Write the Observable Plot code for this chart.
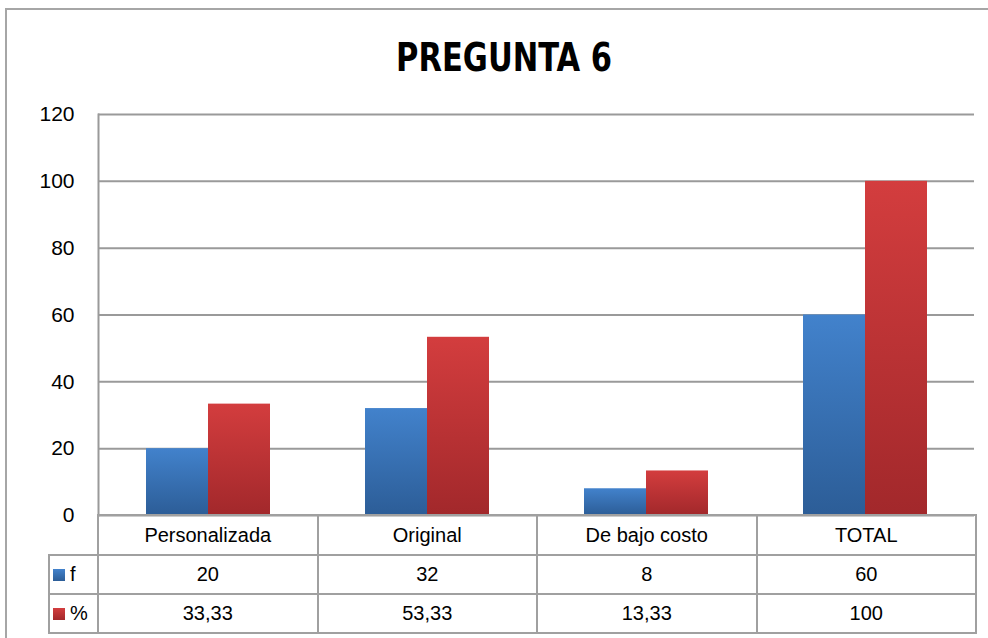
<!DOCTYPE html>
<html><head><meta charset="utf-8">
<script src="https://cdn.jsdelivr.net/npm/d3@7"></script>
<script src="https://cdn.jsdelivr.net/npm/@observablehq/plot@0.6"></script>
<style>
body{margin:0;background:#fff;font-family:"Liberation Sans",Arial,sans-serif;color:#000;}
#frame{position:absolute;left:5px;top:8px;width:1000px;height:700px;border-left:2px solid #a6a6a6;border-top:2px solid #a6a6a6;}
#title{position:absolute;left:0;top:35px;width:1008px;text-align:center;}
#title span{display:inline-block;transform:scaleX(0.87);transform-origin:center;font:bold 39px "Liberation Sans Narrow","DejaVu Sans Condensed",sans-serif;}
#chart{position:absolute;left:0;top:100px;}
#tbl{position:absolute;left:48px;top:514px;border-collapse:collapse;table-layout:fixed;width:928px;font-size:20px;}
#tbl td{border:2px solid #a0a0a0;text-align:center;padding:0;}
#tbl td.blank{border:none;}
#tbl td.lab{text-align:left;padding-left:3px;}
.sw{display:inline-block;width:12px;height:12px;margin-right:5px;vertical-align:0px;}
</style></head>
<body>
<div id="frame"></div>
<div id="title"><span>PREGUNTA 6</span></div>
<div id="chart"></div>
<table id="tbl"></table>
<script>
const categories = ["Personalizada", "Original", "De bajo costo", "TOTAL"];
const seriesNames = ["f", "%"];
const fValues = [20, 32, 8, 60];
const pctValues = [33.33, 53.33, 13.33, 100];
const yTicks = [0, 20, 40, 60, 80, 100, 120];

const gradIds = ["gradF", "gradP"];
const gradStops = [["#4282cc", "#2c5d97"], ["#d33d3e", "#a2282b"]];

const data = [];
categories.forEach((c, i) => {
  data.push({cat: c, series: seriesNames[0], value: fValues[i]});
  data.push({cat: c, series: seriesNames[1], value: pctValues[i]});
});

const W = 988, marginLeft = 97, marginRight = 13;
const svg = Plot.plot({
  width: W,
  height: 416,
  marginTop: 14,
  marginBottom: 1,
  marginLeft,
  marginRight,
  style: {fontFamily: "'Liberation Sans', Arial, sans-serif", fontSize: "21px", color: "#000", background: "transparent", overflow: "visible"},
  fx: {domain: categories, paddingInner: 0, paddingOuter: 0, axis: null, label: null},
  x: {domain: seriesNames, paddingInner: 0, paddingOuter: 0.742, axis: null},
  y: {domain: [0, 120], axis: null},
  color: {domain: seriesNames, range: gradIds.map(g => `url(#${g})`)},
  marks: [
    Plot.ruleY(yTicks, {stroke: "#9a9a9a", strokeWidth: 2}),
    Plot.barY(data, {fx: "cat", x: "series", y: "value", fill: "series"}),
    Plot.frame({anchor: "left", stroke: "#9a9a9a", strokeWidth: 2, facetAnchor: "left"}),
    Plot.axisY(yTicks, {tickSize: 0, tickPadding: 24, fontSize: 21, fill: "#000", label: null})
  ]
});
const defs = d3.select(svg).insert("defs", ":first-child");
gradIds.forEach((id, k) => {
  const g = defs.append("linearGradient").attr("id", id).attr("x1", 0).attr("y1", 0).attr("x2", 0).attr("y2", 1);
  g.append("stop").attr("offset", "0%").attr("stop-color", gradStops[k][0]);
  g.append("stop").attr("offset", "100%").attr("stop-color", gradStops[k][1]);
});
document.getElementById("chart").appendChild(svg);

// data table below the chart
const fmt = v => Number.isInteger(v) ? String(v) : v.toFixed(2).replace(".", ",");
const tbl = d3.select("#tbl");
const colg = tbl.append("colgroup");
colg.append("col").style("width", "49px");
categories.forEach(() => colg.append("col").style("width", ((W - marginLeft - marginRight) / categories.length) + "px"));
const hdr = tbl.append("tr").style("height", "40px");
hdr.append("td").attr("class", "blank");
categories.forEach(c => hdr.append("td").text(c));
[[seriesNames[0], fValues, 0], [seriesNames[1], pctValues, 1]].forEach(([name, vals, k]) => {
  const tr = tbl.append("tr").style("height", "39px");
  const lab = tr.append("td").attr("class", "lab");
  lab.append("span").attr("class", "sw").style("background", `linear-gradient(${gradStops[k][0]}, ${gradStops[k][1]})`);
  lab.append("span").text(name);
  vals.forEach(v => tr.append("td").text(fmt(v)));
});
</script>
</body></html>
